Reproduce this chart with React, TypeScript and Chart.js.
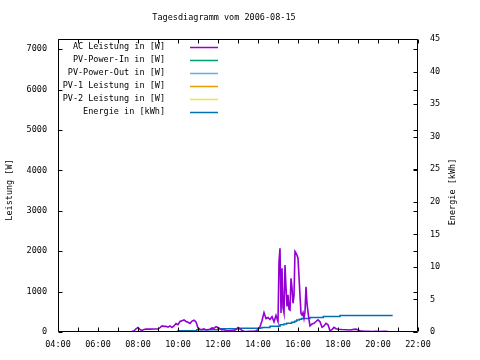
import React, { useEffect, useRef } from 'react';
import { Chart, registerables } from 'chart.js';

Chart.register(...registerables);

const FONT = "'DejaVu Sans Mono', monospace";

const titleText = 'Tagesdiagramm vom 2006-08-15';
const yTitle = 'Leistung [W]';
const y2Title = 'Energie [kWh]';

const seriesLabels = [
  'AC Leistung in [W]',
  'PV-Power-In in [W]',
  'PV-Power-Out in [W]',
  'PV-1 Leistung in [W]',
  'PV-2 Leistung in [W]',
  'Energie in [kWh]',
];
const seriesColors = ['#9400d3', '#009e73', '#56b4e9', '#e69f00', '#f0e442', '#0072b2'];

const xTickHours = [4, 5, 6, 7, 8, 9, 10, 11, 12, 13, 14, 15, 16, 17, 18, 19, 20, 21, 22];
const xLabelHours = [4, 6, 8, 10, 12, 14, 16, 18, 20, 22];
const xTickLabels = ['04:00', '06:00', '08:00', '10:00', '12:00', '14:00', '16:00', '18:00', '20:00', '22:00'];
const yTickValues = [0, 1000, 2000, 3000, 4000, 5000, 6000, 7000];
const y2TickValues = [0, 5, 10, 15, 20, 25, 30, 35, 40, 45];

const acTimes = [
  '07:36', '07:42', '07:48', '07:54', '08:00', '08:06', '08:12', '08:18', '08:24', '08:36', '08:48', '09:00',
  '09:06', '09:12', '09:18', '09:24', '09:30', '09:36', '09:42', '09:48', '09:54', '10:00', '10:06', '10:12',
  '10:18', '10:24', '10:30', '10:36', '10:42', '10:48', '10:54', '11:00', '11:06', '11:12', '11:18', '11:24',
  '11:30', '11:36', '11:42', '11:48', '11:54', '12:00', '12:06', '12:12', '12:18', '12:24', '12:36', '12:48',
  '12:54', '13:00', '13:06', '13:12', '13:18', '13:24', '13:36', '13:48', '13:54', '14:00', '14:06', '14:12',
  '14:18', '14:24', '14:30', '14:36', '14:42', '14:48', '14:54', '15:00', '15:03', '15:06', '15:09', '15:12',
  '15:15', '15:18', '15:21', '15:24', '15:27', '15:30', '15:33', '15:36', '15:39', '15:42', '15:45', '15:48',
  '15:51', '15:54', '15:57', '16:00', '16:03', '16:06', '16:09', '16:12', '16:15', '16:18', '16:21', '16:24',
  '16:27', '16:30', '16:33', '16:36', '16:42', '16:48', '16:54', '17:00', '17:06', '17:12', '17:18', '17:24',
  '17:30', '17:36', '17:42', '17:48', '17:54', '18:00', '18:12', '18:24', '18:36', '18:48', '18:54', '19:00',
  '19:06', '19:18', '19:30', '19:42', '19:54', '20:06', '20:18', '20:30',
];
const acWatts = [
  0, 10, 30, 80, 110, 60, 40, 60, 70, 70, 75, 75,
  110, 150, 140, 140, 120, 150, 110, 150, 210, 180, 260, 280,
  300, 260, 240, 210, 270, 290, 250, 100, 70, 60, 80, 50,
  60, 70, 100, 90, 130, 110, 80, 50, 60, 30, 30, 40,
  60, 110, 80, 40, 20, 10, 20, 15, 30, 60, 130, 280,
  480, 330, 360, 310, 380, 250, 410, 260, 1740, 2070, 470, 1580,
  600, 470, 1660, 1100, 630, 920, 560, 540, 1330, 1100, 710, 900,
  1990, 1950, 1900, 1825, 1370, 900, 460, 420, 480, 340, 500, 1120,
  700, 500, 300, 150, 200, 215, 260, 300, 255, 115, 150, 215,
  180, 30, 60, 115, 80, 70, 60, 55, 50, 65, 70, 50,
  30, 15, 20, 10, 15, 10, 15, 10,
];

const energyTimes = [
  '08:42', '10:00', '10:56', '12:00', '13:06', '14:06', '14:12', '14:36', '15:06', '15:18', '15:26', '15:41',
  '15:50', '15:56', '16:04', '16:11', '16:36', '17:16', '18:06', '20:44',
];
const energyKWh = [
  0, 0.2, 0.35, 0.5, 0.56, 0.62, 0.7, 0.9, 1.1, 1.22, 1.33, 1.48,
  1.65, 1.83, 1.96, 2.09, 2.24, 2.39, 2.54, 2.54,
];

const toHours = (t: string) => {
  const [h, m] = t.split(':').map(Number);
  return h + m / 60;
};

const decorPlugin = {
  id: 'decor',
  afterDraw(chart: any) {
    const { ctx, chartArea: a, scales } = chart;
    const L = Math.round(a.left) + 0.5;
    const R = Math.round(a.right) - 0.5;
    const T = Math.round(a.top) + 0.5;
    const B = Math.round(a.bottom) - 0.5;
    ctx.save();
    ctx.strokeStyle = '#000';
    ctx.lineWidth = 1;
    ctx.beginPath();
    ctx.rect(L, T, R - L, B - T);
    for (const v of xTickHours) {
      const px = Math.round(scales.x.getPixelForValue(v)) + 0.5;
      ctx.moveTo(px, B);
      ctx.lineTo(px, B - 4);
      ctx.moveTo(px, T);
      ctx.lineTo(px, T + 4);
    }
    for (const v of yTickValues) {
      const py = Math.round(scales.y.getPixelForValue(v)) + 0.5;
      ctx.moveTo(L, py);
      ctx.lineTo(L + 4, py);
      ctx.moveTo(R, py);
      ctx.lineTo(R - 4, py);
    }
    for (const v of y2TickValues) {
      const py = Math.round(scales.y2.getPixelForValue(v)) + 0.5;
      ctx.moveTo(R, py);
      ctx.lineTo(R - 4, py);
    }
    ctx.stroke();

    ctx.fillStyle = '#000';
    ctx.font = `8.5px ${FONT}`;
    ctx.textBaseline = 'middle';
    ctx.textAlign = 'center';
    ctx.fillText(titleText, 224, 18);
    ctx.save();
    ctx.translate(10, 190);
    ctx.rotate(-Math.PI / 2);
    ctx.fillText(yTitle, 0, 0);
    ctx.restore();
    ctx.save();
    ctx.translate(453, 192);
    ctx.rotate(-Math.PI / 2);
    ctx.fillText(y2Title, 0, 0);
    ctx.restore();
    ctx.textAlign = 'right';
    seriesLabels.forEach((lab, i) => {
      const y = 47 + i * 13;
      ctx.fillStyle = '#000';
      ctx.fillText(lab, 165, y);
      ctx.strokeStyle = seriesColors[i];
      ctx.lineWidth = 1.5;
      ctx.beginPath();
      ctx.moveTo(190, Math.round(y) + 0.5);
      ctx.lineTo(218, Math.round(y) + 0.5);
      ctx.stroke();
    });
    ctx.restore();
  },
};

export default function App() {
  const ref = useRef<HTMLCanvasElement>(null);
  useEffect(() => {
    if (!ref.current) return;
    Chart.defaults.color = '#000';
    Chart.defaults.font.family = FONT;
    Chart.defaults.font.size = 8.5;
    const tickFont = { family: FONT, size: 8.5 };
    const empty: { x: number; y: number }[] = [];
    const chart = new Chart(ref.current, {
      type: 'line',
      data: {
        datasets: [
          {
            label: seriesLabels[0],
            data: acTimes.map((t, i) => ({ x: toHours(t), y: acWatts[i] })),
            borderColor: seriesColors[0],
            borderWidth: 1.6,
            pointRadius: 0,
            yAxisID: 'y',
          },
          ...[1, 2, 3, 4].map((k) => ({
            label: seriesLabels[k],
            data: empty,
            borderColor: seriesColors[k],
            borderWidth: 1.5,
            pointRadius: 0,
            yAxisID: 'y',
          })),
          {
            label: seriesLabels[5],
            data: energyTimes.map((t, i) => ({ x: toHours(t), y: energyKWh[i] })),
            borderColor: seriesColors[5],
            borderWidth: 1.5,
            pointRadius: 0,
            stepped: 'before',
            yAxisID: 'y2',
          },
        ],
      },
      options: {
        animation: false,
        responsive: false,
        devicePixelRatio: 1,
        layout: { padding: { top: 39, left: 0, right: 0, bottom: 0 } },
        plugins: { legend: { display: false }, title: { display: false }, tooltip: { enabled: false } },
        scales: {
          x: {
            type: 'linear',
            position: 'bottom',
            min: 4,
            max: 22,
            grid: { display: false, drawTicks: false },
            border: { display: false },
            afterFit: (s: any) => { s.height = 28; },
            afterBuildTicks: (s: any) => { s.ticks = xLabelHours.map((v) => ({ value: v })); },
            ticks: {
              autoSkip: false,
              maxRotation: 0,
              padding: 8,
              font: tickFont,
              callback: (v: any) => {
                const i = xLabelHours.indexOf(Number(v));
                return i >= 0 ? xTickLabels[i] : '';
              },
            },
          },
          y: {
            type: 'linear',
            position: 'left',
            min: 0,
            max: 7250,
            grid: { display: false, drawTicks: false },
            border: { display: false },
            afterFit: (s: any) => { s.width = 58; },
            afterBuildTicks: (s: any) => { s.ticks = yTickValues.map((v) => ({ value: v })); },
            ticks: { autoSkip: false, padding: 11, font: tickFont, callback: (v: any) => String(v) },
          },
          y2: {
            type: 'linear',
            position: 'right',
            min: 0,
            max: 45,
            grid: { display: false, drawTicks: false },
            border: { display: false },
            afterFit: (s: any) => { s.width = 62; },
            afterBuildTicks: (s: any) => { s.ticks = y2TickValues.map((v) => ({ value: v })); },
            ticks: { autoSkip: false, padding: 12, font: tickFont, callback: (v: any) => String(v) },
          },
        },
      },
      plugins: [decorPlugin],
    });
    return () => chart.destroy();
  }, []);
  return (
    <div style={{ position: 'fixed', left: 0, top: 0, width: 480, height: 360, background: '#fff' }}>
      <canvas ref={ref} width={480} height={360} style={{ display: 'block' }} />
    </div>
  );
}
